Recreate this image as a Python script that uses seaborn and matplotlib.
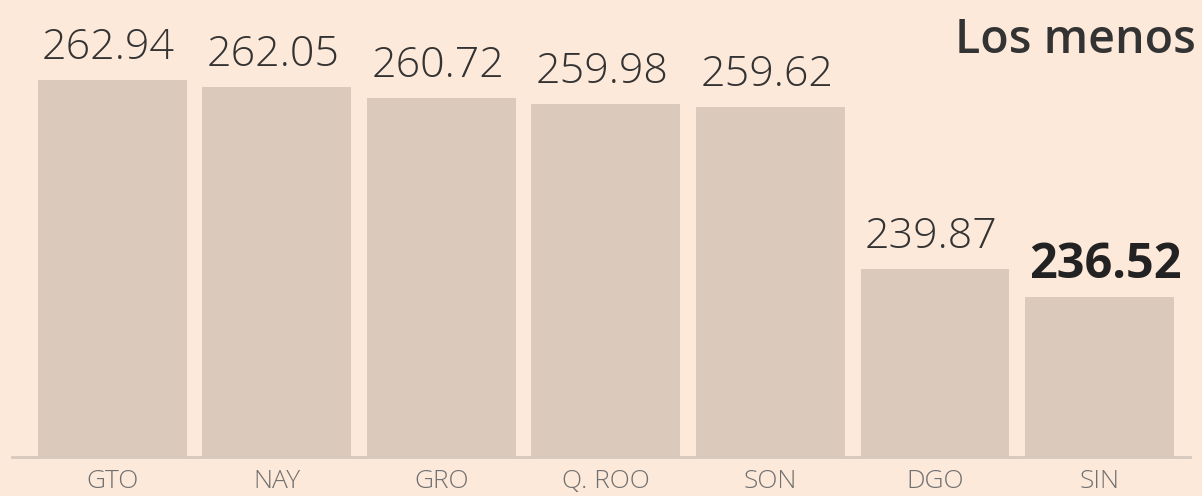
import matplotlib
matplotlib.use('Agg')
import matplotlib.pyplot as plt
import seaborn as sns
import pandas as pd

estados = ['GTO', 'NAY', 'GRO', 'Q. ROO', 'SON', 'DGO', 'SIN']
valores = [262.94, 262.05, 260.72, 259.98, 259.62, 239.87, 236.52]
titulo = 'Los menos'

df = pd.DataFrame({'estado': estados, 'valor': valores})

bg = '#fde9da'
bar_color = '#dbc9bb'
ancho = 0.905

sns.set_theme(style='white')
plt.rcParams['font.family'] = ['Open Sans', 'DejaVu Sans']

fig = plt.figure(figsize=(12.02, 4.96), dpi=100, facecolor=bg)
ax = fig.add_axes([12 / 1202, 39 / 496, 1178 / 1202, 457 / 496])
ax.set_facecolor(bg)

sns.barplot(data=df, x='estado', y='valor', color=bar_color, saturation=1,
            width=ancho, linewidth=0, ax=ax)

ax.set_ylim(217, 272.7)
ax.set_xlim(-0.61, 6.55)

# etiquetas alineadas al borde izquierdo de cada barra
for i, v in enumerate(valores):
    last = i == len(valores) - 1
    ax.annotate(f'{v:.2f}', (i - ancho / 2, v), xytext=(3, 5 if last else 8),
                textcoords='offset points', ha='left', va='bottom',
                fontsize=35 if last else 31,
                fontweight='bold' if last else 'light',
                color='#222222' if last else '#333333')

for s in ['top', 'left', 'right']:
    ax.spines[s].set_visible(False)
ax.spines['bottom'].set_color('#d6c8bd')
ax.spines['bottom'].set_linewidth(2)
ax.set_yticks([])
ax.set_xlabel('')
ax.set_ylabel('')
ax.tick_params(axis='x', length=0, pad=9, labelsize=19, labelcolor='#707070')
for lbl in ax.get_xticklabels():
    lbl.set_fontweight('light')

fig.text(0.995, 0.965, titulo, ha='right', va='top', fontsize=33.5,
         fontweight='semibold', color='#333333')

fig.savefig('out.png', dpi=100, facecolor=bg)
